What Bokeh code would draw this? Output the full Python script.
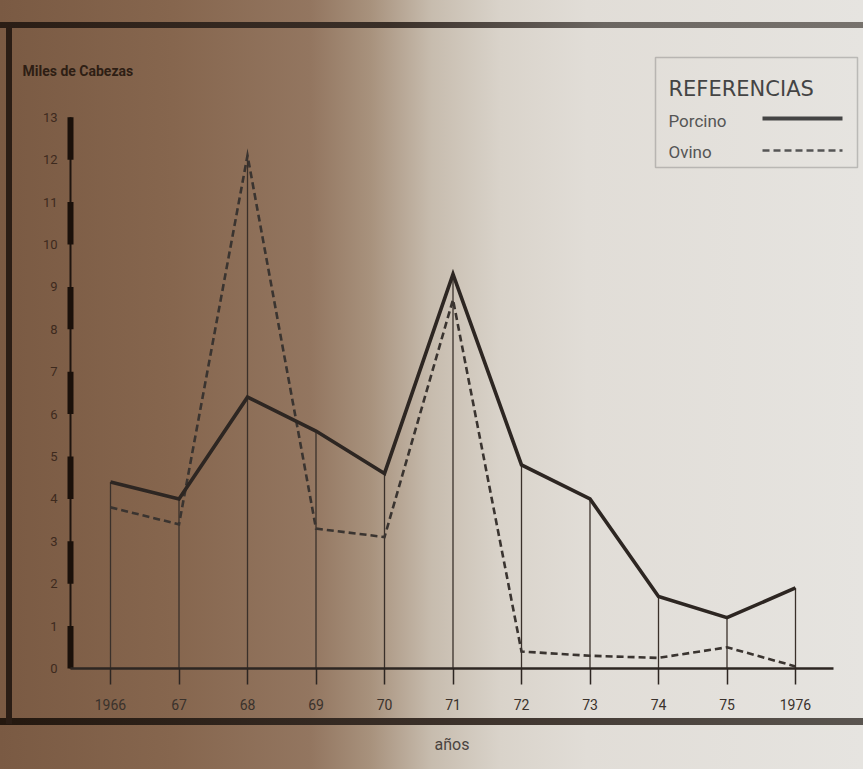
import numpy as np
from bokeh.plotting import figure
from bokeh.models import (Range1d, FixedTicker, Label, BoxAnnotation, ColumnDataSource)
from bokeh.embed import file_html
from bokeh.resources import INLINE

# ---- data ----
years = [1966, 1967, 1968, 1969, 1970, 1971, 1972, 1973, 1974, 1975, 1976]
year_labels = ["1966", "67", "68", "69", "70", "71", "72", "73", "74", "75", "1976"]
porcino = [4.4, 4.0, 6.4, 5.6, 4.6, 9.3, 4.8, 4.0, 1.7, 1.2, 1.9]
ovino = [3.8, 3.4, 12.1, 3.3, 3.1, 8.7, 0.4, 0.3, 0.25, 0.5, 0.05]
y_ticks = list(range(0, 14))

FONT = "Roboto"
INK = "#2d2622"

W, H = 863, 769
FL, FT, FB = 12, 30, 765          # frame left / top / bottom in px
BASE = 668                        # px of the zero line
PX_PER_YEAR, PX_PER_UNIT = 68.5, 42.4
x_start = 1966 - (110 - FL) / PX_PER_YEAR
x_end = x_start + (W - FL) / PX_PER_YEAR
y_start = -(FB - BASE) / PX_PER_UNIT
y_end = (BASE - FT) / PX_PER_UNIT
axis_x = 1966 + (70 - 110) / PX_PER_YEAR   # where the y axis stands

p = figure(width=W, height=H, output_backend="svg", toolbar_location=None,
           x_range=Range1d(x_start, x_end), y_range=Range1d(y_start, y_end),
           min_border_left=FL, min_border_right=0, min_border_top=FT, min_border_bottom=H - FB)
p.background_fill_alpha = 0
p.border_fill_alpha = 0
p.outline_line_color = None
p.grid.visible = False

p.styles = {
    "background": (
        "linear-gradient(to right, #2a1d15, #3a2f28 45%, #6b6661 70%, #77726d) 0 22px / 100% 6px no-repeat, "
        "linear-gradient(#2a1d15, #2a1d15) 6px 22px / 6px 702px no-repeat, "
        "linear-gradient(to right, #24180f, #3a2f28 50%, #5a5550) 0 718px / 100% 7px no-repeat, "
        "linear-gradient(to right, #7a5a43 0%, #86664e 20%, #937660 36%, #a8927d 43%, #c7bcae 50%, "
        "#d9d3ca 58%, #e1ddd7 68%, #e6e4e0 100%)"
    )
}

# vertical reference lines from baseline up to the highest value of each year
tops = np.maximum(np.array(porcino), np.array(ovino))
p.segment(x0=years, y0=[0] * len(years), x1=years, y1=tops, line_color="#3a302a", line_width=1.3)

# y-axis scale bar (alternating thick segments)
p.segment(x0=[axis_x], y0=[y_ticks[0]], x1=[axis_x], y1=[y_ticks[-1]], line_color="#1e140e", line_width=2)
p.segment(x0=[axis_x] * 7, y0=y_ticks[0:13:2], x1=[axis_x] * 7, y1=y_ticks[1:14:2],
          line_color="#1a100a", line_width=6)

src = ColumnDataSource(dict(year=years, porcino=porcino, ovino=ovino))
p.line("year", "ovino", source=src, line_color="#3a3430", line_width=2.6, line_dash="7 4",
       line_join="miter")
p.line("year", "porcino", source=src, line_color=INK, line_width=3.6, line_join="miter")

# axes
xa = p.xaxis[0]
xa.fixed_location = 0
xa.ticker = FixedTicker(ticks=years)
xa.major_label_overrides = {y: l for y, l in zip(years, year_labels)}
xa.bounds = (axis_x, 1976.55)
xa.axis_line_width = 2.5
xa.axis_line_color = INK
xa.major_tick_out = 16
xa.major_tick_in = 0
xa.major_tick_line_width = 1.5
xa.major_tick_line_color = INK
xa.minor_tick_line_color = None
xa.major_label_standoff = 14
xa.major_label_text_font = FONT
xa.major_label_text_font_size = "14px"
xa.major_label_text_color = "#3a322c"
xa.axis_label = "años"
xa.axis_label_text_font = FONT
xa.axis_label_text_font_style = "normal"
xa.axis_label_text_font_size = "16px"
xa.axis_label_text_color = "#4a4440"
xa.axis_label_standoff = 22

ya = p.yaxis[0]
ya.fixed_location = axis_x
ya.ticker = FixedTicker(ticks=y_ticks)
ya.axis_line_color = None
ya.major_tick_line_color = None
ya.minor_tick_line_color = None
ya.major_label_standoff = 7
ya.major_label_text_font = FONT
ya.major_label_text_font_size = "13px"
ya.major_label_text_color = "#3d2a1e"

# y title
p.add_layout(Label(x=1966 + (22 - 110) / PX_PER_YEAR, y=(BASE - 70) / PX_PER_UNIT,
                   text="Miles de Cabezas",
                   text_font=FONT, text_font_size="14px", text_font_style="bold",
                   text_color="#2e1e14", text_baseline="middle", text_align="left"))

# legend box
lg_left = 1966 + (655 - 110) / PX_PER_YEAR
lg_right = 1966 + (857 - 110) / PX_PER_YEAR
lg_top = (BASE - 57) / PX_PER_UNIT
lg_bottom = (BASE - 167) / PX_PER_UNIT
p.add_layout(BoxAnnotation(left=lg_left, right=lg_right, bottom=lg_bottom, top=lg_top,
                           fill_alpha=0, line_color="#555", line_width=1.5))
tx = lg_left + 13 / PX_PER_YEAR
p.add_layout(Label(x=tx, y=(BASE - 88) / PX_PER_UNIT, text="REFERENCIAS", text_font="DejaVu Sans",
                   text_font_size="21px", text_color="#444", text_baseline="alphabetic"))
p.add_layout(Label(x=tx, y=(BASE - 120) / PX_PER_UNIT, text="Porcino", text_font=FONT,
                   text_font_size="17px", text_color="#555", text_baseline="alphabetic"))
p.add_layout(Label(x=tx, y=(BASE - 151) / PX_PER_UNIT, text="Ovino", text_font=FONT,
                   text_font_size="17px", text_color="#555", text_baseline="alphabetic"))
sx0 = 1966 + (762 - 110) / PX_PER_YEAR
sx1 = 1966 + (842 - 110) / PX_PER_YEAR
y_s1 = (BASE - 118) / PX_PER_UNIT
y_s2 = (BASE - 150) / PX_PER_UNIT
p.line(x=[sx0, sx1], y=[y_s1, y_s1], line_color="#444", line_width=4)
p.line(x=[sx0, sx1], y=[y_s2, y_s2], line_color="#555", line_width=2.5, line_dash="7 4")

open("out.html", "w").write(file_html(p, INLINE))
